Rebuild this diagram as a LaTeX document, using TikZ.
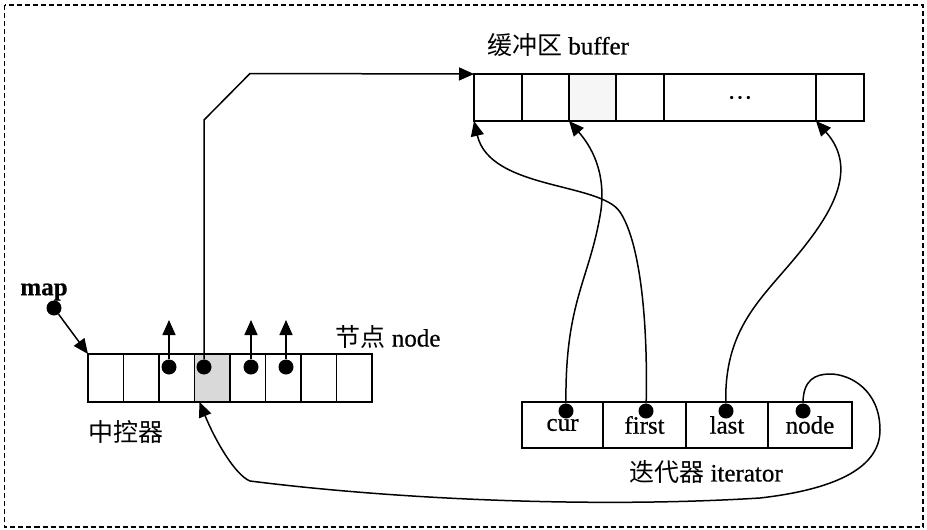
\documentclass[tikz,border=0pt]{standalone}
\usepackage{fontspec}
\setmainfont{Liberation Serif}[FakeBold=0.6]
\newfontfamily\cjk{Noto Sans CJK SC}
\usetikzlibrary{arrows.meta}
\tikzset{
  cell/.style={draw, line width=1.6pt, inner sep=0pt, outer sep=0pt, minimum height=47pt, font=\fontsize{25}{27}\selectfont},
  pin/.style={circle, fill=black, inner sep=0pt, minimum size=15pt},
  ptr/.style={line width=1.5pt, -{Triangle[length=15pt,width=13pt]}},
  lbl/.style={inner sep=0pt, font=\fontsize{25}{27}\selectfont},
}
\begin{document}
\begin{tikzpicture}[x=1pt,y=1pt,yscale=-1,xscale=1]
\useasboundingbox (0,0) rectangle (927,530);
%Frame
\draw [line width=1.3pt, dash pattern=on 5pt off 3pt] (4.5,5) rectangle (923,527);

%Buffer
\node [cell, minimum width=48pt] (b1) at (498,97.5) {};
\node [cell, minimum width=47pt] (b2) at (545.5,97.5) {};
\node [cell, minimum width=47pt, fill=gray!7] (b3) at (592.5,97.5) {};
\node [cell, minimum width=48pt] (b4) at (640,97.5) {};
\node [cell, minimum width=152pt] (b5) at (740,97.5) {\ldots};
\node [cell, minimum width=48pt] (b6) at (840,97.5) {};

%Map (control array)
\node [cell, minimum width=35.5pt, minimum height=48pt] (m1) at (105.75,378) {};
\node [cell, minimum width=35.5pt, minimum height=48pt] (m2) at (141.25,378) {};
\node [cell, minimum width=35.5pt, minimum height=48pt] (m3) at (176.75,378) {};
\node [cell, minimum width=35.5pt, minimum height=48pt, fill=gray!30] (m4) at (212.25,378) {};
\node [cell, minimum width=35.5pt, minimum height=48pt] (m5) at (247.75,378) {};
\node [cell, minimum width=35.5pt, minimum height=48pt] (m6) at (283.25,378) {};
\node [cell, minimum width=35.5pt, minimum height=48pt] (m7) at (318.75,378) {};
\node [cell, minimum width=35.5pt, minimum height=48pt] (m8) at (354.25,378) {};

%Iterator
\node [cell, minimum width=81pt, minimum height=46pt] (it1) at (562.5,425) {cur};
\node [cell, minimum width=83pt, minimum height=46pt] (it2) at (644.5,425) {first};
\node [cell, minimum width=82pt, minimum height=46pt] (it3) at (727,425) {last};
\node [cell, minimum width=84pt, minimum height=46pt] (it4) at (810,425) {node};

%Dots
\node [pin] (dmap) at (54,308) {};
\node [pin] (d3) at (169,367) {};
\node [pin] (d4) at (204,367) {};
\node [pin] (d5) at (251,367) {};
\node [pin] (d6) at (286,367) {};
\node [pin] (dcur) at (566,411) {};
\node [pin] (dfirst) at (646,411) {};
\node [pin] (dlast) at (726,411) {};
\node [pin] (dnode) at (803,411) {};

%Free ends
\coordinate (u3) at (169,320);
\coordinate (u5) at (251,320);
\coordinate (u6) at (286,320);
\coordinate (bend1) at (204,120);
\coordinate (bend2) at (250,73.5);

%Pointers from map
\draw [ptr] (dmap) -- (m1.north west);
\draw [ptr] (d3) -- (u3);
\draw [ptr] (d5) -- (u5);
\draw [ptr] (d6) -- (u6);
\draw [ptr] (d4) -- (bend1) -- (bend2) -- (b1.north west);

%Pointers from iterator
\draw [ptr] (dcur) .. controls (565,300) and (590,280) .. (601,210) .. controls (606,170) and (590,145) .. (b3.south west);
\draw [ptr] (dfirst) .. controls (648,320) and (640,242) .. (620,212) .. controls (600,182) and (490,190) .. (b1.south west);
\draw [ptr] (dlast) .. controls (724,330) and (760,300) .. (795,258) .. controls (830,216) and (860,170) .. (b6.south west);
\draw [ptr] (dnode) .. controls (803,380) and (815,374) .. (830,374) .. controls (850,374) and (880,390) .. (880,430) .. controls (880,470) and (830,490) .. (760,498) .. controls (600,508) and (400,500) .. (250,481) .. controls (235,475) and (215,440) .. ([xshift=5pt]m4.south west);

% Text Node
\node [lbl] (tbuf) at (558,45) {{\cjk 缓冲区} buffer};
% Text Node
\node [lbl, font=\fontsize{25}{27}\selectfont\bfseries] (tmap) at (44,292) {map};
% Text Node
\node [lbl] (tnode) at (388,337) {{\cjk 节点} node};
% Text Node
\node [lbl] (tctl) at (126,432) {\cjk 中控器};
% Text Node
\node [lbl] (titer) at (706,472) {{\cjk 迭代器} iterator};
\end{tikzpicture}
\end{document}
